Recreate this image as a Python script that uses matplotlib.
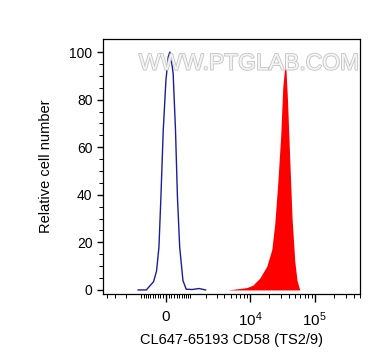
import matplotlib
matplotlib.use("Agg")
import matplotlib.pyplot as plt
import matplotlib.patheffects as pe
from matplotlib import font_manager

# isotype control (blue outline)
ctrl_x = [-1175, -770, -460, -345, -255, -182, -97, 0, 85, 145, 205, 265, 355, 430, 520, 655, 800, 1110, 1500, 1960]
ctrl_y = [0, 0, 3.5, 8, 18, 39, 67, 88, 98, 100, 96, 91, 67, 39, 18, 4, 0.3, 0.2, 0.6, 0]

# CD58 stained (red filled)
cd58_x = [4543, 8985, 11120, 14270, 18290, 21850, 24300, 27000, 30000, 32200, 35450, 38100, 41300, 44850, 49400, 53500, 58900]
cd58_y = [0, 1, 2, 5, 10, 17, 28, 45, 65, 85, 97, 80, 55, 30, 12, 4, 0]

major_ticks = [0, 1e4, 1e5]
major_labels = ["0", "$10^4$", "$10^5$"]
minor_ticks = ([-k * 1000 for k in range(1, 5)] + [-k * 100 for k in range(1, 10)]
               + [k * 100 for k in range(1, 10)] + [k * 1000 for k in range(1, 10)]
               + [k * 10000 for k in range(2, 10)] + [k * 100000 for k in range(2, 6)])

plt.rcParams["font.family"] = ["Liberation Sans", "DejaVu Sans"]
plt.rcParams["mathtext.fontset"] = "custom"
plt.rcParams["mathtext.rm"] = "Liberation Sans"
plt.rcParams["mathtext.it"] = "Liberation Sans"

names = {f.name for f in font_manager.fontManager.ttflist}
wm_font = "Liberation Sans Narrow" if "Liberation Sans Narrow" in names else "Liberation Sans"

fig = plt.figure(figsize=(3.88, 3.64), dpi=100)
ax = fig.add_axes([0.2655, 0.1923, 0.928 - 0.2655, 0.893 - 0.1923])
ax.set_xscale("asinh", linear_width=1022)

ax.fill_between(cd58_x, cd58_y, 0, color="#ff0000", linewidth=0)
ax.plot(ctrl_x, ctrl_y, color="#1c1c9c", linewidth=1.0)

ax.set_xlim(-4700, 494000)
ax.set_ylim(-1.7, 105.5)

ax.set_xticks(major_ticks)
ax.set_xticklabels(major_labels)
ax.set_xticks(minor_ticks, minor=True)
ax.set_xticklabels([], minor=True)
ax.set_yticks([0, 20, 40, 60, 80, 100])
ax.set_yticks(range(0, 101, 5), minor=True)

ax.tick_params(axis="x", which="major", length=5.5, width=1, pad=6, labelsize=11)
ax.tick_params(axis="x", which="minor", length=3, width=0.7)
ax.tick_params(axis="y", which="major", length=4.5, width=1, pad=3, labelsize=10)
ax.tick_params(axis="y", which="minor", length=3, width=0.7)

for s in ax.spines.values():
    s.set_linewidth(0.9)

ax.set_xlabel("CL647-65193 CD58 (TS2/9)", fontsize=10.5, labelpad=3)
ax.set_ylabel("Relative cell number", fontsize=10.5, labelpad=12)

ax.text(0.995, 0.905, "WWW.PTGLAB.COM", transform=ax.transAxes, ha="right", va="center",
        fontsize=16.5, color="#f4f4f4", family=wm_font,
        path_effects=[pe.withStroke(linewidth=1.2, foreground="#c4c4c4")])

fig.savefig("out.png", dpi=100)
